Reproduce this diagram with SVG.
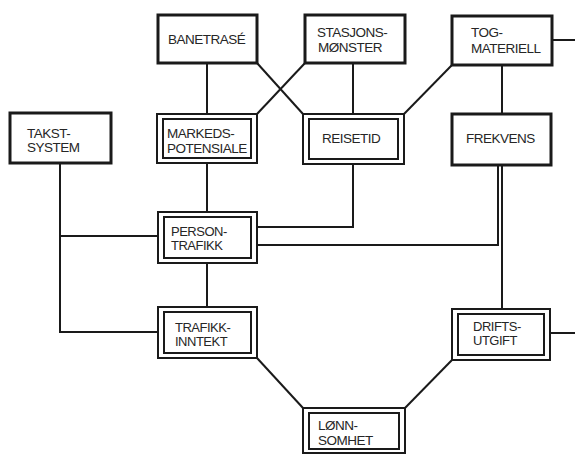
<svg xmlns="http://www.w3.org/2000/svg" width="575" height="454" viewBox="0 0 575 454">
<style>
.bg{fill:#fff}
.single{fill:#fff;stroke:#1a1a1a;stroke-width:3}
.outer{fill:#fff;stroke:#1a1a1a;stroke-width:2}
.inner{fill:none;stroke:#1a1a1a;stroke-width:2}
.conn line,.conn polyline{stroke:#1a1a1a;stroke-width:2;fill:none}
text{font-family:"Liberation Sans",Arial,sans-serif;font-size:13.5px;fill:#262626;letter-spacing:-0.5px}
.tight{font-size:13px}
</style>
<rect class="bg" x="0" y="0" width="575" height="454"/>
<g id="connectors" class="conn">
<line x1="207" y1="63" x2="207" y2="114"/>
<line x1="257" y1="63" x2="303" y2="114"/>
<line x1="305" y1="63" x2="257" y2="114"/>
<line x1="353" y1="63" x2="353" y2="114"/>
<line x1="452" y1="65" x2="404" y2="114"/>
<line x1="502" y1="65" x2="502" y2="114"/>
<line x1="552" y1="40" x2="575" y2="40"/>
<polyline points="60,163 60,332 158,332"/>
<line x1="60" y1="236" x2="158" y2="236"/>
<line x1="207" y1="163" x2="207" y2="212"/>
<polyline points="353,164 353,227 257,227"/>
<polyline points="498,165 498,245 257,245"/>
<line x1="502" y1="165" x2="502" y2="309"/>
<line x1="207" y1="263" x2="207" y2="307"/>
<line x1="257" y1="358" x2="303" y2="408"/>
<line x1="452" y1="360" x2="405" y2="408"/>
<line x1="550" y1="333" x2="575" y2="333"/>
</g>
<g id="banetrase">
<rect class="single" x="158" y="15" width="99" height="48"/>
<text x="168" y="44">BANETRASÉ</text>
</g>
<g id="stasjonsmonster">
<rect class="single" x="305" y="15" width="100" height="48"/>
<text x="317" y="37">STASJONS-</text>
<text x="318" y="52">MØNSTER</text>
</g>
<g id="togmateriell">
<rect class="single" x="452" y="16" width="100" height="49"/>
<text x="471" y="37">TOG-</text>
<text x="471" y="53">MATERIELL</text>
</g>
<g id="takstsystem">
<rect class="single" x="10" y="113" width="101" height="50"/>
<text x="27" y="138">TAKST-</text>
<text x="27" y="152">SYSTEM</text>
</g>
<g id="markedspotensiale">
<rect class="outer" x="157" y="114" width="100" height="49"/>
<rect class="inner" x="163" y="119" width="88" height="39"/>
<text x="167" y="138">MARKEDS-</text>
<text x="167" y="153">POTENSIALE</text>
</g>
<g id="reisetid">
<rect class="outer" x="303" y="114" width="101" height="50"/>
<rect class="inner" x="309" y="119" width="89" height="40"/>
<text x="322" y="143">REISETID</text>
</g>
<g id="frekvens">
<rect class="single" x="452" y="114" width="99" height="51"/>
<text x="466" y="143">FREKVENS</text>
</g>
<g id="persontrafikk">
<rect class="outer" x="158" y="212" width="99" height="51"/>
<rect class="inner" x="164" y="217" width="87" height="41"/>
<text class="tight" x="171" y="236">PERSON-</text>
<text class="tight" x="171" y="250">TRAFIKK</text>
</g>
<g id="trafikkinntekt">
<rect class="outer" x="158" y="307" width="99" height="51"/>
<rect class="inner" x="164" y="312" width="87" height="41"/>
<text class="tight" x="175" y="332">TRAFIKK-</text>
<text class="tight" x="175" y="346">INNTEKT</text>
</g>
<g id="driftsutgift">
<rect class="outer" x="452" y="309" width="98" height="51"/>
<rect class="inner" x="458" y="314" width="86" height="41"/>
<text class="tight" x="473" y="331">DRIFTS-</text>
<text class="tight" x="473" y="345">UTGIFT</text>
</g>
<g id="lonnsomhet">
<rect class="outer" x="303" y="408" width="102" height="45"/>
<rect class="inner" x="309" y="413" width="90" height="36"/>
<text x="318" y="430">LØNN-</text>
<text x="318" y="445">SOMHET</text>
</g>
</svg>
